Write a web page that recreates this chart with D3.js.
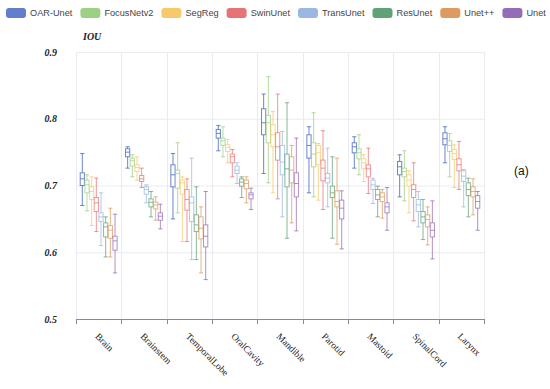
<!DOCTYPE html>
<html>
<head>
<meta charset="utf-8">
<script src="https://cdn.jsdelivr.net/npm/d3@7/dist/d3.min.js"></script>
<style>
  body { margin: 0; background: #fff; }
  svg { display: block; }
  .grid line { stroke: #e8ebf2; stroke-width: 1; }
  .ylab { font-family: "Liberation Serif", "Times New Roman", serif; font-weight: bold; font-style: italic; font-size: 10px; fill: #222; }
  .xlab { font-family: "Liberation Serif", "Times New Roman", serif; font-size: 9.5px; fill: #222; }
  .legend text { font-family: "Liberation Sans", Arial, sans-serif; font-size: 9.2px; fill: #444; }
</style>
</head>
<body>
<svg width="550" height="389"></svg>
<script>
const categories = ['Brain', 'Brainstem', 'TemporalLobe', 'OralCavity', 'Mandible', 'Parotid', 'Mastoid', 'SpinalCord', 'Larynx'];
const series = ['OAR-Unet', 'FocusNetv2', 'SegReg', 'SwinUnet', 'TransUnet', 'ResUnet', 'Unet++', 'Unet'];
const colors = ['#5470c6', '#91cc75', '#f5c45a', '#e46565', '#8fb0e0', '#4f9868', '#d99050', '#8a5cb0'];
const yTicks = [0.5, 0.6, 0.7, 0.8, 0.9];

// [low whisker, Q1, median, Q3, high whisker], one row per series, per category
const brain = [
  [0.670, 0.700, 0.710, 0.719, 0.748],
  [0.662, 0.689, 0.701, 0.708, 0.716],
  [0.640, 0.679, 0.691, 0.698, 0.713],
  [0.631, 0.661, 0.674, 0.682, 0.711],
  [0.610, 0.646, 0.653, 0.659, 0.689],
  [0.593, 0.623, 0.638, 0.644, 0.653],
  [0.593, 0.621, 0.633, 0.640, 0.666],
  [0.569, 0.603, 0.617, 0.624, 0.657]
];
const brainstem = [
  [0.726, 0.743, 0.750, 0.755, 0.758],
  [0.713, 0.729, 0.737, 0.741, 0.746],
  [0.708, 0.721, 0.727, 0.731, 0.743],
  [0.697, 0.706, 0.710, 0.715, 0.726],
  [0.674, 0.687, 0.694, 0.698, 0.701],
  [0.653, 0.668, 0.675, 0.680, 0.691],
  [0.648, 0.665, 0.671, 0.675, 0.683],
  [0.635, 0.648, 0.654, 0.659, 0.672]
];
const temporalLobe = [
  [0.650, 0.698, 0.716, 0.731, 0.748],
  [0.659, 0.696, 0.718, 0.723, 0.764],
  [0.616, 0.687, 0.704, 0.708, 0.713],
  [0.616, 0.663, 0.679, 0.694, 0.710],
  [0.589, 0.646, 0.674, 0.683, 0.741],
  [0.589, 0.631, 0.641, 0.656, 0.698],
  [0.569, 0.620, 0.636, 0.653, 0.668],
  [0.559, 0.608, 0.624, 0.641, 0.691]
];
const oralCavity = [
  [0.752, 0.771, 0.778, 0.784, 0.790],
  [0.743, 0.760, 0.767, 0.771, 0.788],
  [0.734, 0.751, 0.757, 0.761, 0.769],
  [0.713, 0.734, 0.743, 0.747, 0.754],
  [0.703, 0.718, 0.723, 0.729, 0.734],
  [0.682, 0.699, 0.705, 0.710, 0.713],
  [0.674, 0.695, 0.703, 0.708, 0.713],
  [0.664, 0.680, 0.686, 0.689, 0.696]
];
const mandible = [
  [0.718, 0.776, 0.794, 0.815, 0.837],
  [0.704, 0.764, 0.794, 0.805, 0.863],
  [0.689, 0.758, 0.776, 0.791, 0.811],
  [0.680, 0.738, 0.758, 0.779, 0.837],
  [0.653, 0.716, 0.735, 0.760, 0.781],
  [0.621, 0.698, 0.725, 0.747, 0.824],
  [0.644, 0.704, 0.723, 0.743, 0.760],
  [0.632, 0.683, 0.703, 0.719, 0.771]
];
const parotid = [
  [0.689, 0.741, 0.760, 0.776, 0.788],
  [0.683, 0.728, 0.747, 0.764, 0.809],
  [0.678, 0.731, 0.749, 0.760, 0.763],
  [0.664, 0.707, 0.726, 0.738, 0.782],
  [0.668, 0.704, 0.711, 0.718, 0.756],
  [0.621, 0.682, 0.689, 0.699, 0.743],
  [0.612, 0.668, 0.676, 0.692, 0.741],
  [0.605, 0.650, 0.666, 0.678, 0.692]
];
const mastoid = [
  [0.726, 0.749, 0.758, 0.764, 0.773],
  [0.716, 0.740, 0.749, 0.755, 0.776],
  [0.706, 0.725, 0.734, 0.740, 0.746],
  [0.688, 0.713, 0.725, 0.731, 0.756],
  [0.673, 0.694, 0.701, 0.708, 0.711],
  [0.653, 0.679, 0.686, 0.694, 0.699],
  [0.651, 0.676, 0.683, 0.689, 0.694],
  [0.633, 0.659, 0.668, 0.674, 0.697]
];
const spinalCord = [
  [0.683, 0.716, 0.728, 0.736, 0.746],
  [0.677, 0.713, 0.721, 0.726, 0.752],
  [0.659, 0.699, 0.708, 0.716, 0.722],
  [0.647, 0.682, 0.694, 0.701, 0.734],
  [0.638, 0.661, 0.671, 0.679, 0.691],
  [0.619, 0.644, 0.653, 0.661, 0.679],
  [0.611, 0.638, 0.649, 0.656, 0.668],
  [0.590, 0.623, 0.633, 0.644, 0.677]
];
const larynx = [
  [0.734, 0.761, 0.770, 0.779, 0.788],
  [0.713, 0.751, 0.760, 0.767, 0.778],
  [0.697, 0.739, 0.748, 0.754, 0.761],
  [0.694, 0.722, 0.731, 0.740, 0.766],
  [0.668, 0.706, 0.714, 0.722, 0.724],
  [0.653, 0.685, 0.694, 0.704, 0.711],
  [0.656, 0.683, 0.691, 0.698, 0.710],
  [0.633, 0.666, 0.676, 0.685, 0.691]
];
const values = [brain, brainstem, temporalLobe, oralCavity, mandible, parotid, mastoid, spinalCord, larynx];

const svg = d3.select('svg');

const plotLeft = 76, plotRight = 484, plotTop = 52, plotBottom = 319;

const x = d3.scaleBand().domain(categories).range([plotLeft, plotRight]);
const xs = d3.scaleBand().domain(series).range([0, x.bandwidth()])
  .paddingInner(0.1).paddingOuter(0.9);
const y = d3.scaleLinear().domain([0.5, 0.9]).range([plotBottom, plotTop]);

// grid
const grid = svg.append('g').attr('class', 'grid');
grid.selectAll('.h').data(yTicks.slice(1)).enter().append('line')
  .attr('x1', plotLeft).attr('x2', plotRight)
  .attr('y1', d => y(d) + 0.5).attr('y2', d => y(d) + 0.5);
const bounds = categories.map(c => x(c)).concat([plotRight]);
grid.selectAll('.v').data(bounds).enter().append('line')
  .attr('x1', d => Math.round(d) + 0.5).attr('x2', d => Math.round(d) + 0.5)
  .attr('y1', plotTop).attr('y2', plotBottom);

// y labels
svg.append('g').selectAll('text').data(yTicks).enter().append('text')
  .attr('class', 'ylab')
  .attr('x', 57).attr('y', d => y(d)).attr('dy', '0.35em')
  .attr('text-anchor', 'end')
  .text(d => d.toFixed(1));

svg.append('text').attr('class', 'ylab')
  .attr('x', 83).attr('y', 40).text('IOU');

// x axis
svg.append('line')
  .attr('x1', plotLeft).attr('x2', plotRight)
  .attr('y1', plotBottom + 0.5).attr('y2', plotBottom + 0.5)
  .attr('stroke', '#8a8a8a');
svg.append('g').selectAll('line').data(bounds).enter().append('line')
  .attr('x1', d => Math.round(d) + 0.5).attr('x2', d => Math.round(d) + 0.5)
  .attr('y1', plotBottom).attr('y2', plotBottom + 5)
  .attr('stroke', '#8a8a8a');

svg.append('g').selectAll('text').data(categories).enter().append('text')
  .attr('class', 'xlab')
  .attr('transform', d => `translate(${x(d) + x.bandwidth() / 2 - 4}, 337) rotate(45)`)
  .text(d => d);

// boxes
const catGroups = svg.append('g').selectAll('g').data(categories).enter().append('g')
  .attr('transform', d => `translate(${x(d)},0)`);

catGroups.each(function (cat, ci) {
  const g = d3.select(this);
  series.forEach((s, si) => {
    const [lo, q1, med, q3, hi] = values[ci][si];
    const bx = xs(s), bw = xs.bandwidth(), cx = bx + bw / 2;
    const col = colors[si];
    const b = g.append('g').attr('stroke', col).attr('stroke-opacity', si === 0 ? 0.85 : 0.68)
      .attr('fill', 'none').attr('stroke-width', 1);
    b.append('line').attr('x1', cx).attr('x2', cx).attr('y1', y(hi)).attr('y2', y(q3));
    b.append('line').attr('x1', cx).attr('x2', cx).attr('y1', y(q1)).attr('y2', y(lo));
    b.append('line').attr('x1', bx).attr('x2', bx + bw).attr('y1', y(hi)).attr('y2', y(hi));
    b.append('line').attr('x1', bx).attr('x2', bx + bw).attr('y1', y(lo)).attr('y2', y(lo));
    b.append('rect').attr('x', bx).attr('y', y(q3)).attr('width', bw)
      .attr('height', y(q1) - y(q3)).attr('fill', '#fff');
    b.append('line').attr('x1', bx).attr('x2', bx + bw).attr('y1', y(med)).attr('y2', y(med));
  });
});

// legend
const legend = svg.append('g').attr('class', 'legend');
let lx = 6;
series.forEach((s, i) => {
  legend.append('rect').attr('x', lx).attr('y', 8).attr('width', 20).attr('height', 10)
    .attr('rx', 3).attr('fill', colors[i]).attr('fill-opacity', 0.9);
  const t = legend.append('text').attr('x', lx + 24).attr('y', 16.3).text(s);
  lx += 24 + t.node().getComputedTextLength() + 8;
});

svg.append('text')
  .attr('x', 514).attr('y', 175)
  .attr('font-family', 'Liberation Sans, Arial, sans-serif')
  .attr('font-size', 12).attr('fill', '#111')
  .text('(a)');
</script>
</body>
</html>
